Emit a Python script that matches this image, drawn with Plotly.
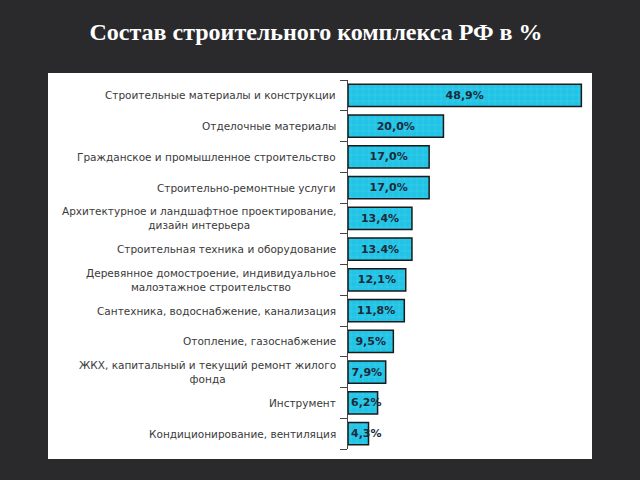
import plotly.graph_objects as go

categories = [
    "Строительные материалы и конструкции",
    "Отделочные материалы",
    "Гражданское и промышленное строительство",
    "Строительно-ремонтные услуги",
    "Архитектурное и ландшафтное проектирование,<br>дизайн интерьера",
    "Строительная техника и оборудование",
    "Деревянное домостроение, индивидуальное<br>малоэтажное строительство",
    "Сантехника, водоснабжение, канализация",
    "Отопление, газоснабжение",
    "ЖКХ, капитальный и текущий ремонт жилого<br>фонда",
    "Инструмент",
    "Кондиционирование, вентиляция",
]
values = [48.9, 20.0, 17.0, 17.0, 13.4, 13.4, 12.1, 11.8, 9.5, 7.9, 6.2, 4.3]
value_labels = ["48,9%", "20,0%", "17,0%", "17,0%", "13,4%", "13.4%", "12,1%",
                "11,8%", "9,5%", "7,9%", "6,2%", "4,3%"]
title = "Состав строительного комплекса РФ в %"

W, H = 640, 480
ml, mr, mt, mb = 348, 51, 80, 31
pw, ph = W - ml - mr, H - mt - mb

def px_x(p):
    return (p - ml) / pw

def px_y(p):
    return 1 - (p - mt) / ph

SMALL = 7.0  # bars narrower than the label: label starts at bar base
value_font = dict(family="DejaVu Sans", size=11, color="#1b2b3a", weight="bold")

fig = go.Figure()
fig.add_trace(go.Bar(
    y=categories, x=values, orientation="h",
    marker=dict(color="#22c4e6", line=dict(color="#1a1a1a", width=1.5),
                pattern=dict(shape="+", fgcolor="#9ee8f5", size=6, solidity=0.08)),
    text=[t if v >= SMALL else "" for t, v in zip(value_labels, values)],
    textposition="inside", insidetextanchor="middle", textangle=0,
    textfont=value_font, cliponaxis=False,
))

for c, v, t in zip(categories, values, value_labels):
    if v < SMALL:
        fig.add_annotation(x=0, xref="x", xshift=1, xanchor="left", y=c, yref="y",
                           text=t, showarrow=False, font=value_font)

for c in categories:
    fig.add_annotation(x=0, xref="paper", xshift=-10, xanchor="right", y=c, yref="y",
                       text=c, showarrow=False, align="center",
                       font=dict(family="DejaVu Sans", size=10.5, color="#3a3a3a"))

fig.add_shape(type="rect", xref="paper", yref="paper", layer="below",
              x0=px_x(48), x1=px_x(592), y0=px_y(459), y1=px_y(73),
              fillcolor="white", line=dict(width=0))

fig.update_layout(
    width=W, height=H,
    margin=dict(l=ml, r=mr, t=mt, b=mb),
    paper_bgcolor="#2a2a2c", plot_bgcolor="white",
    bargap=0.28, showlegend=False,
    uniformtext=dict(minsize=11, mode="show"),
    title=dict(text="<b>" + title + "</b>", x=316 / W, xanchor="center", y=1 - 32 / H, yanchor="middle",
               font=dict(family="Liberation Serif", size=24, color="white")),
    xaxis=dict(range=[0, 50.5], visible=False, fixedrange=True),
    yaxis=dict(autorange="reversed", tickmode="array", tickvals=categories,
               ticktext=[""] * len(categories), showline=True, linecolor="#444444",
               linewidth=1, ticks="outside", ticklen=7, tickcolor="#444444", tickson="boundaries",
               showgrid=False, zeroline=False, automargin=False),
)

fig.write_html("out.html")
